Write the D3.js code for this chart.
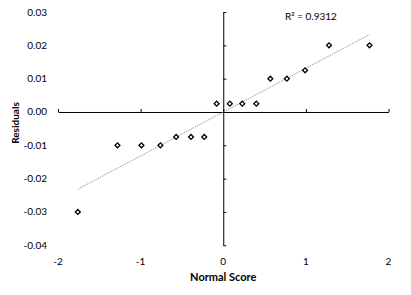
<!DOCTYPE html>
<html>
<head>
<meta charset="utf-8">
<script src="https://cdn.jsdelivr.net/npm/d3@7"></script>
<style>
  body { margin: 0; background: #fff; }
  text { font-family: Lato, "Open Sans", sans-serif; fill: #000; }
</style>
</head>
<body>
<script>
// Normal probability plot of residuals
var normalScores = [-1.76, -1.28, -0.99, -0.76, -0.57, -0.39, -0.23, -0.08,
                    0.08, 0.23, 0.40, 0.57, 0.77, 0.99, 1.28, 1.77];
var residuals = [-0.03, -0.01, -0.01, -0.01, -0.0075, -0.0075, -0.0075, 0.0025,
                 0.0025, 0.0025, 0.0025, 0.01, 0.01, 0.0125, 0.02, 0.02];
var xTicks = [-2, -1, 0, 1, 2];
var yTicks = [0.03, 0.02, 0.01, 0.00, -0.01, -0.02, -0.03, -0.04];
var rSquaredLabel = "R\u00b2 = 0.9312";

var width = 411, height = 295;

var svg = d3.select("body").append("svg")
    .attr("width", width)
    .attr("height", height);

var x = d3.scaleLinear().domain([-2, 2]).range([58, 388.5]);
var y = d3.scaleLinear().domain([-0.04, 0.03]).range([245.3, 12]);

var points = normalScores.map(function(d, i) {
    return { x: d, y: residuals[i] };
});

// x axis through y = 0, ticks pointing up
svg.append("g")
    .attr("transform", "translate(0," + y(0) + ")")
    .call(d3.axisTop(x).tickValues(xTicks).tickSize(3).tickSizeOuter(0).tickFormat(""));

// y axis through x = 0, ticks pointing right
svg.append("g")
    .attr("transform", "translate(" + x(0) + ",0)")
    .call(d3.axisRight(y).tickValues(yTicks).tickSize(3).tickSizeOuter(0).tickFormat(""));

svg.selectAll(".domain").attr("stroke", "#000").attr("stroke-width", 1);
svg.selectAll(".tick line").attr("stroke", "#000").attr("stroke-width", 1);

// tick labels sit on the plot edges
svg.append("g").selectAll("text")
    .data(yTicks)
    .enter().append("text")
    .attr("x", 47)
    .attr("y", function(d) { return y(d); })
    .attr("dy", "0.35em")
    .attr("text-anchor", "end")
    .style("font-size", "10px")
    .text(function(d) { return d.toFixed(2); });

svg.append("g").selectAll("text")
    .data(xTicks)
    .enter().append("text")
    .attr("x", function(d) { return x(d); })
    .attr("y", 261)
    .attr("dy", "0.35em")
    .attr("text-anchor", "middle")
    .style("font-size", "10px")
    .text(function(d) { return d; });

// least squares trendline
var mx = d3.mean(points, function(d) { return d.x; });
var my = d3.mean(points, function(d) { return d.y; });
var sxy = d3.sum(points, function(d) { return (d.x - mx) * (d.y - my); });
var sxx = d3.sum(points, function(d) { return (d.x - mx) * (d.x - mx); });
var slope = sxy / sxx;
var intercept = my - slope * mx;
var xExt = d3.extent(normalScores);

svg.append("line")
    .attr("x1", x(xExt[0]))
    .attr("y1", y(intercept + slope * xExt[0]))
    .attr("x2", x(xExt[1]))
    .attr("y2", y(intercept + slope * xExt[1]))
    .attr("stroke", "#7f7f7f")
    .attr("stroke-width", 0.8)
    .attr("stroke-dasharray", "1.5,1");

// diamond markers (square turned 45 degrees)
var diamond = d3.symbol().type(d3.symbolSquare).size(12);
svg.selectAll(".point")
    .data(points)
    .enter().append("path")
    .attr("class", "point")
    .attr("d", diamond)
    .attr("transform", function(d) {
        return "translate(" + x(d.x) + "," + y(d.y) + ") rotate(45)";
    })
    .attr("fill", "#fff")
    .attr("stroke", "#000")
    .attr("stroke-width", 1.3);

svg.append("text")
    .attr("x", 285)
    .attr("y", 16)
    .attr("dy", "0.35em")
    .style("font-size", "10px")
    .text(rSquaredLabel);

// axis titles
svg.append("text")
    .attr("x", x(0))
    .attr("y", 277)
    .attr("dy", "0.35em")
    .attr("text-anchor", "middle")
    .style("font-size", "11px")
    .style("font-weight", "bold")
    .text("Normal Score");

svg.append("text")
    .attr("transform", "translate(15,123) rotate(-90)")
    .attr("dy", "0.35em")
    .attr("text-anchor", "middle")
    .style("font-size", "10px")
    .style("font-weight", "bold")
    .text("Residuals");
</script>
</body>
</html>
